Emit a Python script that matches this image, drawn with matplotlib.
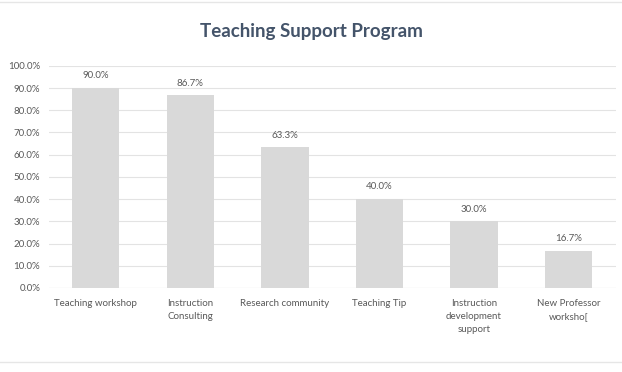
import numpy as np
import matplotlib.pyplot as plt
from matplotlib.ticker import FuncFormatter

# Données
categories = ["Teaching workshop", "Instruction\nConsulting", "Research community",
              "Teaching Tip", "Instruction\ndevelopment\nsupport", "New Professor\nworksho["]
values = [90.0, 86.7, 63.3, 40.0, 30.0, 16.7]

plt.rcParams['font.family'] = ['Lato', 'DejaVu Sans']

fig = plt.figure(figsize=(6.22, 3.72), dpi=100)
ax = fig.add_axes([0.078, 0.226, 0.912, 0.597])

x = np.arange(len(categories))
bars = ax.bar(x, values, width=0.5, color='#d9d9d9', zorder=2)

for b, v in zip(bars, values):
    ax.text(b.get_x() + b.get_width() / 2, v + 3.5, f"{v:.1f}%", ha='center', va='bottom',
            fontsize=7, color='#595959')

ax.set_ylim(0, 100)
ax.set_xlim(-0.5, len(categories) - 0.5)
ax.set_yticks(np.arange(0, 101, 10))
ax.yaxis.set_major_formatter(FuncFormatter(lambda v, p: f"{v:.1f}%"))
ax.set_xticks(x)
ax.set_xticklabels(categories, fontsize=7, color='#595959', linespacing=1.6)
ax.tick_params(axis='y', labelsize=7, colors='#595959', length=0, pad=6)
ax.tick_params(axis='x', length=0, pad=8)
ax.grid(axis='y', color='#e3e3e3', linewidth=0.8, zorder=0)
for s in ax.spines.values():
    s.set_visible(False)
ax.axhline(0, color='#d9d9d9', linewidth=0.8, zorder=3)

fig.text(0.5, 0.915, "Teaching Support Program", ha='center', va='center',
         fontsize=13.5, fontweight='bold', color='#44546a')

# bordures du cadre
fig.add_artist(plt.Line2D([0, 1], [0.995, 0.995], color='#e6e6e6', linewidth=1))
fig.add_artist(plt.Line2D([0, 1], [0.027, 0.027], color='#e6e6e6', linewidth=1))

fig.savefig("out.png", dpi=100)
